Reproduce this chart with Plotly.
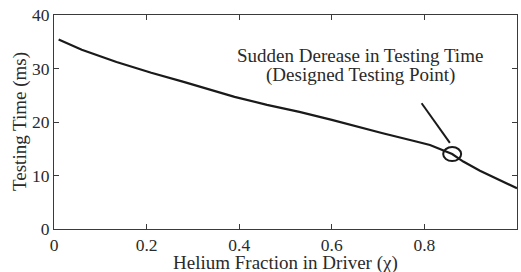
import plotly.graph_objects as go

helium_fraction = [0.01, 0.06, 0.135, 0.21, 0.28, 0.315, 0.34, 0.39, 0.46, 0.53, 0.60, 0.66, 0.71, 0.78, 0.812, 0.86, 0.884, 0.92, 0.956, 1.0]
testing_time = [35.4, 33.5, 31.2, 29.2, 27.5, 26.6, 26.0, 24.7, 23.2, 21.9, 20.4, 19.0, 17.9, 16.4, 15.7, 14.0, 12.6, 10.9, 9.35, 7.6]

design_x = 0.86
design_y = 14.0

x_ticks = [0, 0.2, 0.4, 0.6, 0.8, 1]
x_tick_labels = ["0", "0.2", "0.4", "0.6", "0.8", "1"]
y_ticks = [0, 10, 20, 30, 40]
y_tick_labels = ["0", "10", "20", "30", "40"]

x_title = "Helium Fraction in Driver (χ)"
y_title = "Testing Time (ms)"
note_line1 = "Sudden Derease in Testing Time"
note_line2 = "(Designed Testing Point)"

FONT = "Liberation Serif, Times New Roman, serif"
FS = 17.5
TXT = "#2a2a2a"
AX = "#3a3a3a"

fig = go.Figure()
fig.add_trace(go.Scatter(x=helium_fraction, y=testing_time, mode="lines",
                         line=dict(color="#1a1a1a", width=2.2), showlegend=False, hoverinfo="skip"))

# designed testing point circle (pixel-sized ellipse)
fig.add_shape(type="circle", xref="x", yref="y", xsizemode="pixel", ysizemode="pixel",
              xanchor=design_x, yanchor=design_y, x0=-9, x1=9, y0=-7, y1=7,
              line=dict(color="#1a1a1a", width=2))
# pointer line
fig.add_shape(type="line", xref="x", yref="y", x0=0.794, y0=23.5, x1=0.855, y1=16.1,
              line=dict(color="#1a1a1a", width=2))

fig.add_annotation(x=0.661, y=32.5, xref="x", yref="y", text=note_line1, showarrow=False,
                   font=dict(family=FONT, size=19, color=TXT), xanchor="center", yanchor="middle")
fig.add_annotation(x=0.661, y=28.8, xref="x", yref="y", text=note_line2, showarrow=False,
                   font=dict(family=FONT, size=19, color=TXT), xanchor="center", yanchor="middle")

# axis titles as annotations for exact placement
fig.add_annotation(x=0.5, y=0, xref="paper", yref="paper", text=x_title, showarrow=False,
                   font=dict(family=FONT, size=19, color=TXT), xanchor="center", yanchor="middle",
                   yshift=-34, borderpad=0)
fig.add_annotation(x=0, y=0.5, xref="paper", yref="paper", text=y_title, showarrow=False,
                   font=dict(family=FONT, size=19, color=TXT), textangle=-90,
                   xanchor="center", yanchor="middle", xshift=-34)

axis_common = dict(showline=True, linecolor=AX, linewidth=1.2, mirror="ticks", ticks="inside",
                   ticklen=5, tickcolor=AX, tickwidth=1, showgrid=False, zeroline=False,
                   automargin=False, tickfont=dict(family=FONT, size=FS, color=TXT))

fig.update_xaxes(range=[0, 1], tickvals=x_ticks, ticktext=x_tick_labels, **axis_common)
fig.update_yaxes(range=[0, 40], tickvals=y_ticks, ticktext=y_tick_labels, **axis_common)

fig.update_layout(width=521, height=272, margin=dict(l=54, r=4, t=15, b=43),
                  paper_bgcolor="white", plot_bgcolor="white", font=dict(family=FONT))
fig.write_html("out.html", config={"displayModeBar": False},
               post_script="document.body.style.margin='0';document.body.style.overflow='hidden';")
